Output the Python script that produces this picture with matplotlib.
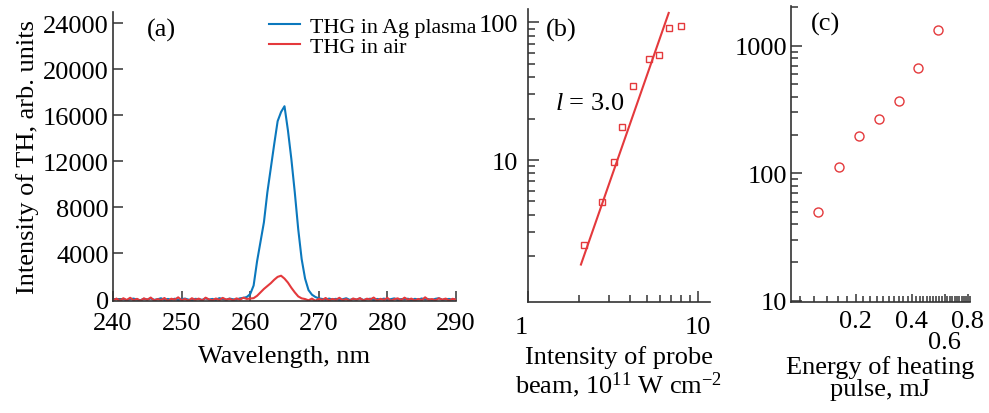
import matplotlib
matplotlib.use('Agg')
import matplotlib.pyplot as plt
import matplotlib.ticker as mticker
import matplotlib.lines as mlines
import numpy as np

plt.rcParams['font.family'] = ['Liberation Serif', 'DejaVu Serif']
plt.rcParams['mathtext.fontset'] = 'custom'
plt.rcParams['mathtext.rm'] = 'Liberation Serif'
plt.rcParams['mathtext.it'] = 'Liberation Serif:italic'

# (a) spectra, 0.5 nm steps from 240 to 290 nm
wavelength = np.arange(240.0, 290.01, 0.5)
blue_pre = [-40, 30, -70, 20, -90, 10, 60, -30, -80, 40, -20, 70, -50, 0, 90, -60, 30, -40, 50, -70,
            20, 60, -30, -90, 40, 10, -50, 80, -20, 30, -60, 100, 20, -40, 60, 0, -30, 80, 120]
blue_peak = [200, 450, 1200, 3300, 5000, 6700, 9300, 11400, 13500, 15500, 16300, 16800, 14700,
             12200, 9300, 6100, 3500, 1800, 800, 400, 200]
blue_post = [80, 30, -40, 60, -20, 40, -70, 10, 90, -50, 20, -30, 70, -60, 0, 50, -80, 30, -20, 60,
             -40, 10, 80, -70, 20, -10, 50, -90, 40, -30, 70, -20, 10, -60, 40, 90, -50, 0, 30, -40, 20]
thg_plasma = blue_pre + blue_peak + blue_post

red_pre = [-120, 60, -150, 90, -60, 130, -90, 40, -130, 80, -40, 150, -100, 20, -70, 110, -140, 50,
           -30, 170, -80, 30, -120, 90, -50, 60, -110, 140, -20, -90, 70, -60, 120, -30, 50, -100,
           80, -40, 140, 30, 60]
red_peak = [100, 300, 600, 900, 1150, 1400, 1700, 1950, 2050, 1800, 1450, 1000, 600, 250, 80]
red_post = [20, -90, 60, -130, 40, -60, 110, -100, 30, -50, 130, -80, 20, -140, 70, -30, 100, -110,
            50, -20, 150, -90, 40, -60, 120, -130, 10, 80, -70, 140, -40, 60, -120, 30, -80, 170,
            -50, 20, -100, 90, -30, 60, -110, 40, -20]
thg_air = red_pre + red_peak + red_post

# (b) probe intensity dependence
probe_int = [2.14, 2.74, 3.21, 3.59, 4.15, 5.16, 5.91, 6.75, 7.94]
probe_th = [2.41, 4.95, 9.6, 17.4, 34.3, 54.2, 57.9, 90.4, 93.5]
fit_x = [2.05, 6.74]
fit_y = [1.74, 117.0]

# (c) heating pulse energy dependence
energy = [0.126, 0.162, 0.208, 0.267, 0.34, 0.433, 0.553]
energy_th = [50, 113, 197, 268, 366, 673, 1333]

blue = '#0b78bd'
red = '#e4393c'
tick_col = '#333333'
fs = 19

W, H = 989, 414
fig = plt.figure(figsize=(W / 100, H / 100), dpi=100)

def box(l, r, t, b):
    return [l / W, (H - b) / H, (r - l) / W, (b - t) / H]

def style(ax):
    for s in ['top', 'right']:
        ax.spines[s].set_visible(False)
    for s in ['left', 'bottom']:
        ax.spines[s].set_linewidth(1.2)
        ax.spines[s].set_color(tick_col)
    ax.tick_params(which='both', direction='in', labelsize=fs, color=tick_col, width=1.1)
    ax.tick_params(which='major', length=7)
    ax.tick_params(which='minor', length=5)

def log_minor(axis, decades):
    locs = [m * d for d in decades for m in range(2, 10)]
    axis.set_ticks(locs, minor=True)
    axis.set_minor_formatter(mticker.NullFormatter())

def force_ticks(axis, is_y, major_len, minor_len):
    marker = mlines.TICKRIGHT if is_y else mlines.TICKUP
    for ticks, size in [(axis.get_major_ticks(), major_len), (axis.get_minor_ticks(), minor_len)]:
        for t in ticks:
            t.tick1line.set_visible(True)
            t.tick1line.set_marker(marker)
            t.tick1line.set_markersize(size)
            t.tick1line.set_markeredgewidth(1.1)
            t.tick1line.set_markeredgecolor(tick_col)

# ---- (a)
ax1 = fig.add_axes(box(113, 456, 13, 302))
style(ax1)
ax1.plot(wavelength, thg_plasma, color=blue, lw=1.5, label='THG in Ag plasma')
ax1.plot(wavelength, thg_air, color=red, lw=1.5, label='THG in air')
ax1.set_xlim(240, 290)
ax1.set_ylim(-150, 25000)
ax1.set_xticks([240, 250, 260, 270, 280, 290])
ax1.set_yticks([0, 4000, 8000, 12000, 16000, 20000, 24000])
ax1.tick_params(axis='y', pad=3)
ax1.tick_params(axis='x', pad=8)
ax1.set_xlabel('Wavelength, nm', fontsize=fs, labelpad=8)
ax1.set_ylabel('Intensity of TH, arb. units', fontsize=fs, labelpad=3)
ax1.text(0.14, 0.94, '(a)', transform=ax1.transAxes, fontsize=fs, ha='center', va='center')
ax1.legend(loc='upper left', bbox_to_anchor=(0.455, 0.985), frameon=False, fontsize=15.8,
           handlelength=1.4, handletextpad=0.45, labelspacing=0.0, borderaxespad=0,
           borderpad=0)

# ---- (b)
ax2 = fig.add_axes(box(528, 710, 10, 303))
ax2.set_xscale('log')
ax2.set_yscale('log')
style(ax2)
ax2.plot(fit_x, fit_y, color=red, lw=1.5)
ax2.plot(probe_int, probe_th, ls='none', marker='s', ms=5, mfc='none', mec=red, mew=1.0)
ax2.set_xticks([1, 10])
ax2.set_xticklabels(['1', '10'])
ax2.set_yticks([10, 100])
ax2.set_yticklabels(['10', '100'])
log_minor(ax2.xaxis, [1])
log_minor(ax2.yaxis, [1, 10])
ax2.set_xlim(1, 11.8)
ax2.set_ylim(0.93, 125)
ax2.tick_params(axis='x', pad=10)
ax2.tick_params(axis='y', pad=7)
ax2.set_xlabel('Intensity of probe\nbeam, 10$^{11}$ W cm$^{-2}$', fontsize=fs, labelpad=5,
               linespacing=1.05)
ax2.text(0.18, 0.93, '(b)', transform=ax2.transAxes, fontsize=fs, ha='center', va='center')
ax2.text(0.34, 0.68, '$l$ = 3.0', transform=ax2.transAxes, fontsize=fs, ha='center', va='center')

# ---- (c)
ax3 = fig.add_axes(box(791, 970, 7, 303))
ax3.set_xscale('log')
ax3.set_yscale('log')
style(ax3)
ax3.plot(energy, energy_th, ls='none', marker='o', ms=6.5, mfc='none', mec=red, mew=1.0)
ax3.set_xticks([0.2, 0.4, 0.6, 0.8])
ax3.set_xticklabels(['0.2', '0.4', '', '0.8'])
minor_c = [t for t in np.arange(0.10, 0.821, 0.02) if min(abs(t - m) for m in [0.2, 0.4, 0.6, 0.8]) > 1e-6]
ax3.set_xticks(minor_c, minor=True)
ax3.xaxis.set_minor_formatter(mticker.NullFormatter())
ax3.tick_params(axis='x', which='major', length=6, pad=6)
ax3.tick_params(axis='x', which='minor', length=4)
ax3.set_yticks([10, 100, 1000])
ax3.set_yticklabels(['10', '100', '1000'])
log_minor(ax3.yaxis, [10, 100, 1000])
ax3.set_xlim(0.09, 0.82)
ax3.set_ylim(9.8, 2050)
ax3.tick_params(axis='y', pad=3)
ax3.text(0.6, -0.135, '0.6', transform=ax3.get_xaxis_transform(), fontsize=fs, ha='center', va='center')
ax3.set_xlabel('Energy of heating\npulse, mJ', fontsize=fs, labelpad=16, linespacing=1.05)
ax3.text(0.19, 0.94, '(c)', transform=ax3.transAxes, fontsize=fs, ha='center', va='center')

fig.canvas.draw()
force_ticks(ax1.yaxis, True, 7, 5)
force_ticks(ax2.xaxis, False, 8, 5)
force_ticks(ax2.yaxis, True, 8, 5)
force_ticks(ax3.yaxis, True, 8, 5)
ax2.get_xticklabels()[0].set_horizontalalignment('right')

fig.savefig('out.png', dpi=100)
